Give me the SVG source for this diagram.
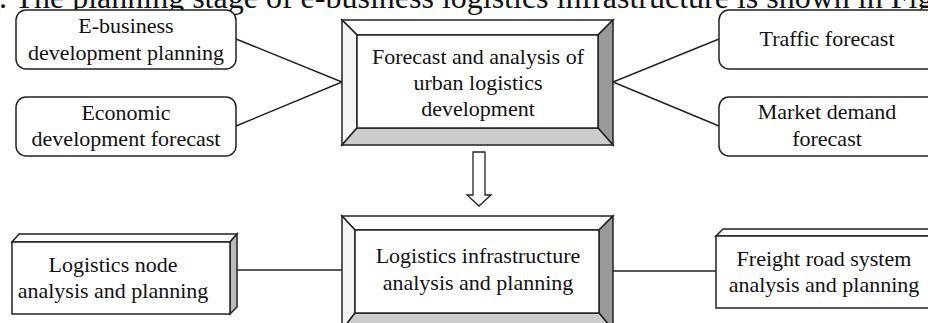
<svg xmlns="http://www.w3.org/2000/svg" width="928" height="323" viewBox="0 0 928 323" font-family="'Liberation Serif', 'DejaVu Serif', serif">
<style>
.t{font-family:"Liberation Serif","DejaVu Serif",serif;font-size:22px;fill:#111;text-anchor:middle}
.hd{font-family:"Liberation Serif","DejaVu Serif",serif;font-size:32px;fill:#111}
.rb{fill:#fff;stroke:#222;stroke-width:1.5}
.bv{stroke:#222;stroke-width:1.5;stroke-linejoin:miter}
.ln{stroke:#222;stroke-width:1.5;fill:none}
</style>
<rect width="928" height="323" fill="#fff"/>
<text class="hd" x="-17" y="8">1. The planning stage of e-business logistics infrastructure is shown in Figure</text>

<g id="connectors">
<polyline class="ln" points="236,39 342,82 236,126"/>
<polyline class="ln" points="719,39 613,82 719,126"/>
<line class="ln" x1="237" y1="270" x2="342" y2="270"/>
<line class="ln" x1="613" y1="271" x2="716" y2="271"/>
<polygon points="473,152 485,152 485,195 491,195 479,206 467,195 473,195" fill="#fff" stroke="#222" stroke-width="1.3"/>
</g>

<g id="n-ebusiness">
<rect class="rb" x="16" y="10" width="220" height="59" rx="10"/>
<text class="t" x="126" y="33">E-business</text>
<text class="t" x="126" y="60">development planning</text>
</g>
<g id="n-economic">
<rect class="rb" x="16" y="97" width="220" height="59" rx="10"/>
<text class="t" x="126" y="120">Economic</text>
<text class="t" x="126" y="146">development forecast</text>
</g>
<g id="n-traffic">
<rect class="rb" x="719" y="10" width="220" height="59" rx="10"/>
<text class="t" x="827" y="46">Traffic forecast</text>
</g>
<g id="n-market">
<rect class="rb" x="719" y="97" width="220" height="59" rx="10"/>
<text class="t" x="827" y="119">Market demand</text>
<text class="t" x="827" y="146">forecast</text>
</g>

<g id="n-forecast">
<polygon class="bv" points="342,20 613,20 598,35 357,35" fill="#fff"/>
<polygon class="bv" points="342,20 357,35 357,128 342,145" fill="#f5f5f5"/>
<polygon class="bv" points="613,20 613,145 598,128 598,35" fill="#999"/>
<polygon class="bv" points="342,145 357,128 598,128 613,145" fill="#ccc"/>
<rect class="rb" x="357" y="35" width="241" height="93"/>
<text class="t" x="478" y="64">Forecast and analysis of</text>
<text class="t" x="478" y="90">urban logistics</text>
<text class="t" x="478" y="116">development</text>
</g>

<g id="n-infra">
<polygon class="bv" points="342,216 613,216 599,230 355,230" fill="#fff"/>
<polygon class="bv" points="342,216 355,230 355,313 342,330" fill="#f5f5f5"/>
<polygon class="bv" points="613,216 613,330 599,313 599,230" fill="#999"/>
<polygon class="bv" points="342,330 355,313 599,313 613,330" fill="#ccc"/>
<rect class="rb" x="355" y="230" width="244" height="83"/>
<text class="t" x="478" y="263">Logistics infrastructure</text>
<text class="t" x="478" y="290">analysis and planning</text>
</g>

<g id="n-node">
<polygon class="bv" points="12,242 19,234 237,234 230,242" fill="#fff"/>
<polygon class="bv" points="230,242 237,234 237,307 230,314" fill="#bbb"/>
<rect class="rb" x="12" y="242" width="218" height="72"/>
<text class="t" x="113" y="272">Logistics node</text>
<text class="t" x="113" y="298">analysis and planning</text>
</g>

<g id="n-freight">
<polygon class="bv" points="716,236 723,229 947,229 940,236" fill="#fff"/>
<rect class="rb" x="716" y="236" width="224" height="72"/>
<text class="t" x="824" y="266">Freight road system</text>
<text class="t" x="824" y="292">analysis and planning</text>
</g>
</svg>
